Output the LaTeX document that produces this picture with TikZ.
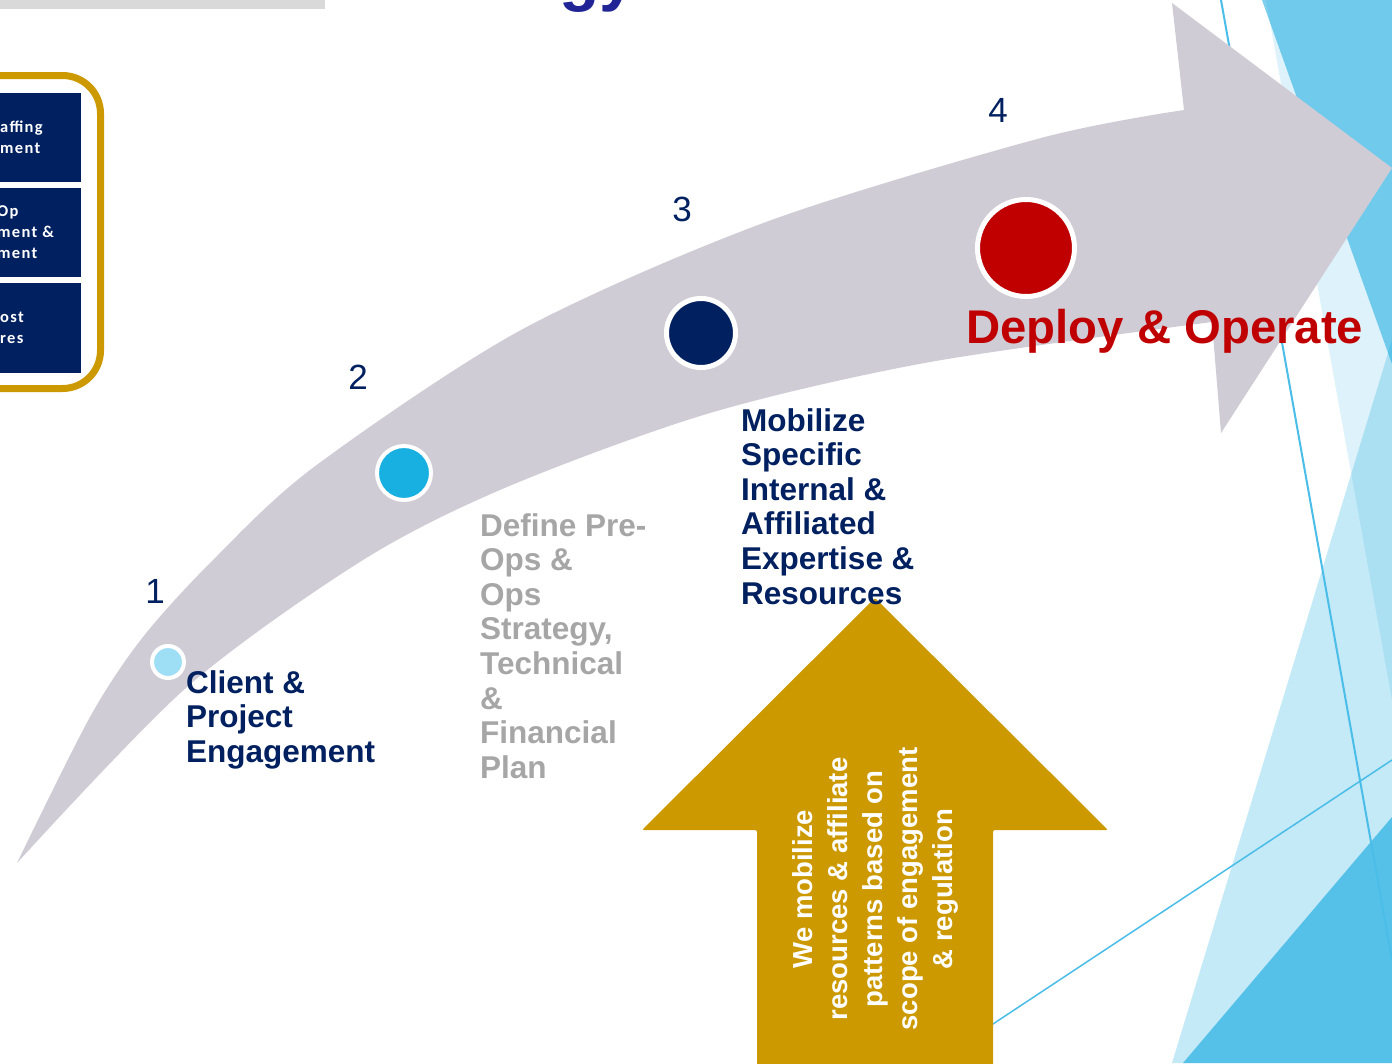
\documentclass[tikz,border=0pt]{standalone}
\usepackage{fontspec}
\setmainfont{Liberation Sans}
\newfontfamily\boxfont[LetterSpace=8]{Carlito}
\usepackage{tikz}
\usetikzlibrary{positioning}
\definecolor{navy}{RGB}{0,32,96}
\definecolor{gold}{RGB}{204,153,0}
\definecolor{bandgray}{RGB}{208,204,214}
\definecolor{darkred}{RGB}{192,0,0}
\definecolor{skyline}{RGB}{29,173,226}
\definecolor{titleblue}{RGB}{32,36,148}
\definecolor{softgray}{RGB}{166,166,166}
\definecolor{bargray}{RGB}{217,217,217}
\definecolor{dotlight}{RGB}{159,223,245}
\definecolor{dotcyan}{RGB}{23,176,224}

\begin{document}
\begin{tikzpicture}[x=1pt,y=-1pt,
  stepdot/.style={circle,draw=white,line width=5pt,inner sep=0pt},
  stepnum/.style={text=navy,inner sep=0pt,font=\fontsize{35}{35}\selectfont},
  steptext/.style={align=left,anchor=north west,inner sep=0pt,font=\fontsize{31.5}{34.6}\selectfont\bfseries},
  boxtext/.style={align=left,anchor=west,inner sep=0pt,text=white,font=\boxfont\fontsize{16.5}{21}\selectfont\bfseries}]
\useasboundingbox (0,0) rectangle (1392,1063);
\clip (0,0) rectangle (1392,1063);
\fill[white] (0,0) rectangle (1392,1063);

\fill[skyline,opacity=0.15] (1266,0) -- (1392,0) -- (1392,700) -- cycle;
\fill[skyline,opacity=0.57] (1262,0) -- (1392,0) -- (1392,364) -- cycle;
\fill[skyline,opacity=0.26] (1172,1063) -- (1392,340) -- (1392,1063) -- cycle;
\fill[skyline,opacity=0.66] (1183,1063) -- (1392,817) -- (1392,1063) -- cycle;
\draw[skyline!80,line width=2pt] (1221,0) -- (1392,960);
\draw[skyline!80,line width=1.5pt] (934,1063) -- (1392,760);

\fill[bargray] (0,0) rectangle (325,9);
\node[anchor=base west,inner sep=0pt,text=titleblue,font=\fontsize{66}{66}\selectfont\bfseries] (title) at (559,-2) {gy};

\draw[gold,line width=7pt,rounded corners=38pt] (-80,75.5) rectangle (100.5,388.5);
\fill[navy] (-10,93) rectangle (81,182);
\fill[navy] (-10,188) rectangle (81,277);
\fill[navy] (-10,283) rectangle (81,373);
\node[boxtext] (staff) at (0,137.5) {affing\\ment};
\node[boxtext] (opsbox) at (-3,232.5) {Op\\ment \&\\ment};
\node[boxtext] (costbox) at (0,328) {ost\\res};

\fill[bandgray] plot[smooth] coordinates {(17,863) (90,717) (143,637) (213,560) (314,467) (521,330) (766,222) (1041,138) (1184,110)}
  -- (1172,3) -- (1392,168) -- (1221,433)
  -- plot[smooth] coordinates {(1212,322) (930,362) (710,413) (507,487) (363,560) (187,687) (17,863)} -- cycle;

\node[stepdot,fill=dotlight,line width=4pt,minimum size=32pt] (d1) at (168,662) {};
\node[stepdot,fill=dotcyan,line width=4pt,minimum size=54pt] (d2) at (404,473) {};
\node[stepdot,fill=navy,minimum size=69pt] (d3) at (701,333) {};
\node[stepdot,fill=darkred,minimum size=97pt] (d4) at (1026,248) {};

\node[stepnum] (n1) at (155,591) {1};
\node[stepnum] (n2) at (358,377) {2};
\node[stepnum] (n3) at (682,209) {3};
\node[stepnum] (n4) at (998,110) {4};

\fill[gold,rounded corners=2pt] (757,1080) -- (757,830) -- (642,830) -- (875,598) -- (1108,830) -- (993,830) -- (993,1080) -- cycle;
\node[rotate=90,align=center,text=white,inner sep=0pt,font=\fontsize{27.5}{35}\selectfont\bfseries] (note) at (875,889) {We mobilize\\resources \& affiliate\\patterns based on\\scope of engagement\\\& regulation};

\node[steptext,text=navy] (client) at (186,670) {Client \&\\Project\\Engagement};
\node[steptext,text=softgray] (define) at (480,513) {Define Pre-\\Ops \&\\Ops\\Strategy,\\Technical\\\&\\Financial\\Plan};
\node[steptext,text=navy] (mobilize) at (741,408) {Mobilize\\Specific\\Internal \&\\Affiliated\\Expertise \&\\Resources};
\node[anchor=base west,inner sep=0pt,text=darkred,font=\fontsize{47.3}{47.3}\selectfont\bfseries] (deploy) at (966,343) {Deploy \& Operate};
\end{tikzpicture}
\end{document}
